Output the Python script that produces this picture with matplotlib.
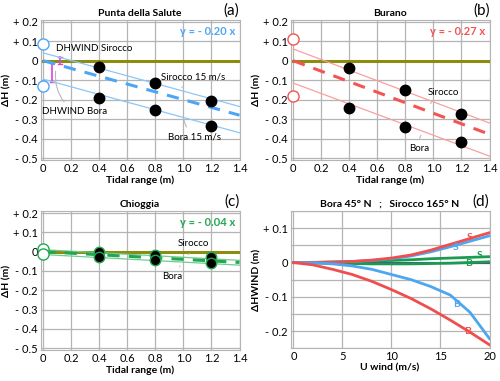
import numpy as np
import matplotlib.pyplot as plt

plt.rcParams['font.family'] = ['Lato', 'DejaVu Sans']

# tidal range panels (a-c)
tidal = [0.4, 0.8, 1.2]
sal_sirocco = [-0.03, -0.115, -0.205]
sal_bora = [-0.19, -0.255, -0.335]
sal_open = [0.085, -0.13]
sal_fit_sirocco = [0.04, -0.235]
sal_fit_bora = [-0.095, -0.37]
sal_slope = -0.20

bur_sirocco = [-0.04, -0.15, -0.275]
bur_bora = [-0.245, -0.34, -0.42]
bur_open = [0.11, -0.18]
bur_fit_sirocco = [0.06, -0.32]
bur_fit_bora = [-0.115, -0.49]
bur_slope = -0.27

chi_sirocco = [0.0, -0.015, -0.03]
chi_bora = [-0.03, -0.045, -0.06]
chi_open = [0.015, -0.01]
chi_fit_sirocco = [0.01, -0.045]
chi_fit_bora = [-0.015, -0.07]
chi_slope = -0.04

# panel (d): DHWIND vs wind speed
u_wind = [0, 2, 4, 6, 8, 10, 12, 14, 16, 18, 20]
red_s = [0, 0.0, 0.001, 0.003, 0.007, 0.013, 0.022, 0.036, 0.053, 0.070, 0.087]
blue_s = [0, 0.0, 0.001, 0.003, 0.006, 0.011, 0.019, 0.031, 0.046, 0.062, 0.078]
green_s = [0, 0.0005, 0.0015, 0.003, 0.0045, 0.006, 0.008, 0.011, 0.013, 0.015, 0.017]
green_b = [0, -0.001, -0.002, -0.003, -0.004, -0.004, -0.004, -0.003, -0.002, 0.0, 0.002]
purple_0 = [0, 0, 0, 0, 0, 0, 0, 0, 0, 0, 0]
blue_b = [0, -0.001, -0.004, -0.010, -0.020, -0.035, -0.050, -0.070, -0.095, -0.145, -0.222]
red_b = [0, -0.007, -0.020, -0.035, -0.055, -0.079, -0.105, -0.135, -0.168, -0.203, -0.240]

GRID = '#b4b4b4'
OLIVE = '#8c8c10'


def style(ax):
    ax.grid(True, color=GRID, lw=0.9)
    ax.set_axisbelow(True)
    for s in ax.spines.values():
        s.set_color(GRID)
    ax.tick_params(length=0, labelsize=8, pad=2)


def ylabels(v):
    if abs(v) < 1e-9:
        return '0'
    return ('+ ' if v > 0 else '- ') + f'{abs(v):.1f}'


def tidal_panel(ax, title, letter, sir, bora, opn, fs, fb, slope, col, light, edge):
    style(ax)
    ax.set_xlim(-0.02, 1.4)
    ax.set_ylim(-0.51, 0.21)
    ax.set_xticks(np.arange(0, 1.41, 0.2))
    ax.set_xticklabels(['0', '0.2', '0.4', '0.6', '0.8', '1.0', '1.2', '1.4'])
    yt = np.round(np.arange(-0.5, 0.21, 0.1), 1)
    ax.set_yticks(yt)
    ax.set_yticklabels([ylabels(v) for v in yt])
    ax.axhline(0, color=OLIVE, lw=2.2, zorder=2)
    ax.plot([0, 1.4], fs, color=light, lw=0.9, zorder=3)
    ax.plot([0, 1.4], fb, color=light, lw=0.9, zorder=3)
    ax.plot([0, 1.4], [0, slope * 1.4], color=col, lw=2.2, ls=(0, (4, 3)), zorder=3)
    ax.plot(tidal, sir, 'o', color='black', mec=edge, mew=1.0, ms=7.5, zorder=5)
    ax.plot(tidal, bora, 'o', color='black', mec=edge, mew=1.0, ms=7.5, zorder=5)
    ax.plot([0, 0], opn, 'o', mfc='white', mec=col, mew=1.0, ms=8, zorder=6, clip_on=False)
    ax.text(1.37, 0.15, f'y = - {abs(slope):.2f} x', color=col, fontsize=8,
            fontweight='bold', ha='right', va='center')
    ax.set_title(title, fontsize=7.5, fontweight='bold', pad=3)
    ax.text(1.0, 1.015, letter, transform=ax.transAxes, fontsize=11, ha='right', va='bottom')
    ax.set_xlabel('Tidal range (m)', fontsize=7.5, fontweight='bold', labelpad=1)
    ax.set_ylabel('ΔH (m)', fontsize=7.5, fontweight='bold', labelpad=1)


fig = plt.figure(figsize=(5, 3.81), dpi=100)
ax_a = fig.add_axes([0.081, 0.58, 0.398, 0.368])
ax_b = fig.add_axes([0.581, 0.58, 0.398, 0.368])
ax_c = fig.add_axes([0.081, 0.081, 0.398, 0.365])
ax_d = fig.add_axes([0.581, 0.086, 0.398, 0.36])

tidal_panel(ax_a, 'Punta della Salute', '(a)', sal_sirocco, sal_bora, sal_open,
            sal_fit_sirocco, sal_fit_bora, sal_slope, '#4da6f5', '#8cc6f8', 'black')
tidal_panel(ax_b, 'Burano', '(b)', bur_sirocco, bur_bora, bur_open,
            bur_fit_sirocco, bur_fit_bora, bur_slope, '#f45454', '#f8a0a0', 'black')
tidal_panel(ax_c, 'Chioggia', '(c)', chi_sirocco, chi_bora, chi_open,
            chi_fit_sirocco, chi_fit_bora, chi_slope, '#20a850', '#70cc90', '#20a850')

# (a) annotations
mag = '#e040e0'
ax_a.plot([0.118, 0.118], [0.018, -0.018], color=mag, lw=1.2)
ax_a.plot([0.103, 0.133], [0.018, 0.018], color=mag, lw=1.0)
ax_a.plot([0.103, 0.133], [-0.018, -0.018], color=mag, lw=1.0)
ax_a.plot([0.064, 0.064], [-0.011, -0.108], color=mag, lw=1.2)
ax_a.plot([0.049, 0.079], [-0.011, -0.011], color=mag, lw=1.0)
ax_a.plot([0.049, 0.079], [-0.108, -0.108], color=mag, lw=1.0)
lead = dict(arrowstyle='-', color='#b8b8b8', lw=0.8)
ax_a.text(0.36, 0.065, 'DHWIND Sirocco', fontsize=7, ha='center', va='center')
ax_a.annotate('DHWIND Bora', xy=(0.09, -0.04), xytext=(0.22, -0.26), fontsize=7,
              ha='center', va='center',
              arrowprops=dict(lead, connectionstyle='arc3,rad=-0.3'))
ax_a.annotate('Sirocco 15 m/s', xy=(0.98, -0.15), xytext=(1.07, -0.085), fontsize=7,
              ha='center', va='center', arrowprops=dict(lead, connectionstyle='arc3,rad=0.2'))
ax_a.annotate('Bora 15 m/s', xy=(1.0, -0.29), xytext=(1.08, -0.39), fontsize=7,
              ha='center', va='center', arrowprops=dict(lead, connectionstyle='arc3,rad=-0.2'))

ax_b.annotate('Sirocco', xy=(0.98, -0.22), xytext=(1.07, -0.165), fontsize=7,
              ha='center', va='center', arrowprops=dict(lead, connectionstyle='arc3,rad=0.2'))
ax_b.annotate('Bora', xy=(0.92, -0.37), xytext=(0.9, -0.45), fontsize=7,
              ha='center', va='center', arrowprops=dict(lead, connectionstyle='arc3,rad=-0.2'))

ax_c.annotate('Sirocco', xy=(1.02, -0.025), xytext=(1.07, 0.04), fontsize=7,
              ha='center', va='center', arrowprops=dict(lead, connectionstyle='arc3,rad=-0.2'))
ax_c.annotate('Bora', xy=(0.98, -0.06), xytext=(0.92, -0.13), fontsize=7,
              ha='center', va='center', arrowprops=dict(lead, connectionstyle='arc3,rad=0.2'))

# (d)
style(ax_d)
ax_d.set_xlim(-0.3, 20)
ax_d.set_ylim(-0.25, 0.15)
ax_d.set_xticks([0, 5, 10, 15, 20])
ax_d.set_yticks(np.round(np.arange(-0.25, 0.151, 0.05), 2))
ax_d.set_yticklabels(['', '- 0.2', '', '- 0.1', '', '0', '', '+ 0.1', ''])
ax_d.plot(u_wind, purple_0, color='#7030a0', lw=1.5)
ax_d.plot(u_wind, green_b, color='#1a9c50', lw=2)
ax_d.plot(u_wind, green_s, color='#1a9c50', lw=2)
ax_d.plot(u_wind, blue_s, color='#4da6f0', lw=2)
ax_d.plot(u_wind, red_s, color='#f04e4e', lw=2)
ax_d.plot(u_wind, blue_b, color='#4da6f0', lw=2)
ax_d.plot(u_wind, red_b, color='#f04e4e', lw=2)
lab = dict(fontsize=7.5, fontweight='bold', ha='center', va='center')
ax_d.text(18.0, 0.074, 'S', color='#f04e4e', **lab)
ax_d.text(16.5, 0.044, 'S', color='#4da6f0', **lab)
ax_d.text(19.0, 0.021, 'S', color='#1a9c50', **lab)
ax_d.text(17.9, -0.004, 'B', color='#1a9c50', **lab)
ax_d.text(16.6, -0.123, 'B', color='#4da6f0', **lab)
ax_d.text(17.8, -0.2, 'B', color='#f04e4e', **lab)
ax_d.set_title('Bora 45° N   ;   Sirocco 165° N', fontsize=7.5, fontweight='bold', pad=3)
ax_d.text(1.0, 1.015, '(d)', transform=ax_d.transAxes, fontsize=11, ha='right', va='bottom')
ax_d.set_xlabel('U wind (m/s)', fontsize=7.5, fontweight='bold', labelpad=1)
ax_d.set_ylabel('ΔHWIND (m)', fontsize=7.5, fontweight='bold', labelpad=1)

fig.savefig('out.png', dpi=100)
